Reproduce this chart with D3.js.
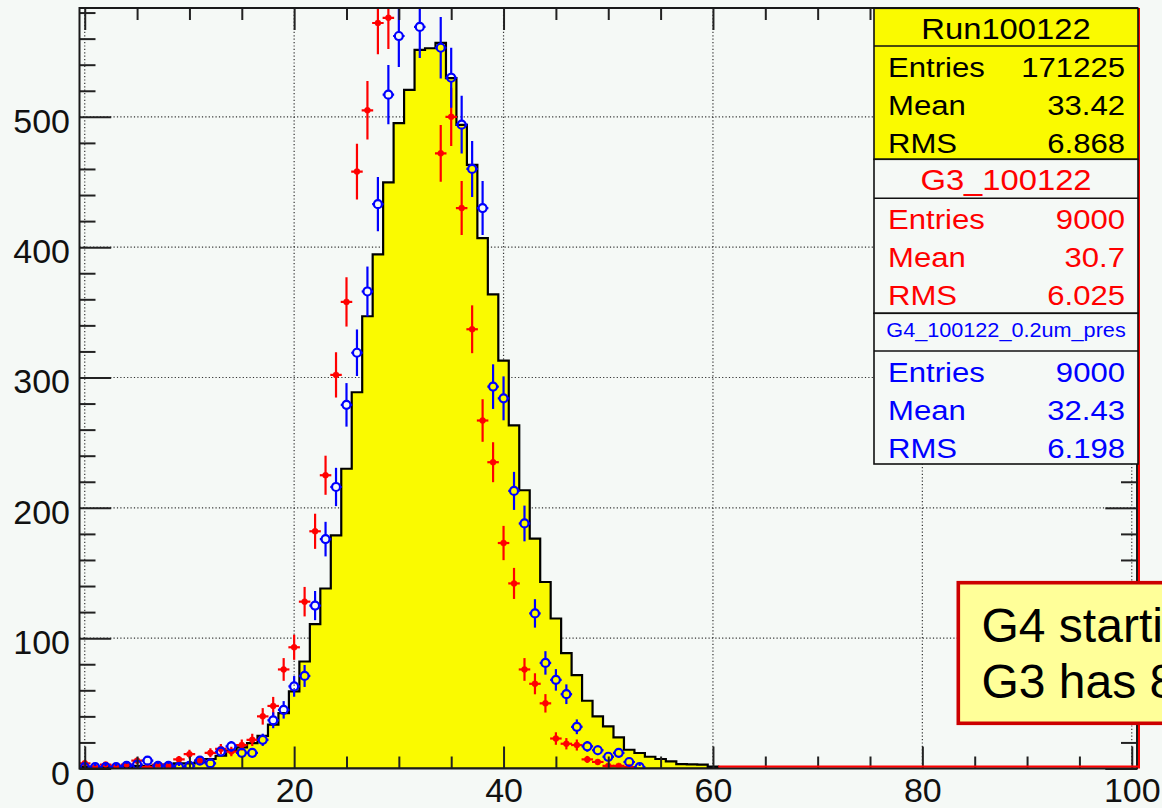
<!DOCTYPE html>
<html><head><meta charset="utf-8">
<script src="https://cdn.jsdelivr.net/npm/d3@7"></script>
<style>body{margin:0;background:#f5f9f6;} svg{display:block;}</style>
</head><body>
<svg id="c" width="1162" height="808"></svg>
<script>
// ---------------- data ----------------
// bin contents, bin i centred on i (bins of width 1 from -0.5 to 100.5)
const runVals = [1.5,1,1,1.5,1.5,2,2,2.5,3,4, 4,4.8,7.3,9.8,13.7,16.2,19.5,25.1,33.6,42.5,
  59.2,82.1,110.7,138.1,178.9,230,288.7,347,394.4,449.7, 495.2,520.7,551.3,552.6,556.7,529.7,493.9,463.2,407,363.8,
  313,263.2,213.5,176.4,143.1,115.1,88.5,71.6,52,40, 32.3,23.9,14.4,11.9,9,7.3,5.5,3.4,3.2,3, 1.5];
const g3Vals = [4,1,3,2,3,6,1,3,2,7, 11,6,12,15,13,18,22,40,48,76, 93,128,182,225,302,358,458,505,572,576,
  600,612,592,596,472,500,430,337,267,235, 173,142,76,65,50,23,19,18,7,5, 2,2,1];
const g4Vals = [1,1,1,1,2,3,6,2,2,1, 2,6,4,13,17,12,12,22,37,45, 63,71,125,176,216,279,319,366,433,517,
  562,605,569,600,553,530,494,460,430,293, 284,213,188,119,81,68,57,32,17,14, 9,12,5,1];
const xMajorTicks = [0,20,40,60,80,100];
const xMinorTicks = d3.range(0,101,5);
const yMajorTicks = [0,100,200,300,400,500];
const yMinorTicks = d3.range(0,581,20);
const statLabels = ["Entries","Mean","RMS"];
const runTitle = "Run100122", runStats = ["171225","33.42","6.868"];
const g3Title = "G3_100122", g3Stats = ["9000","30.7","6.025"];
const g4Title = "G4_100122_0.2um_pres", g4Stats = ["9000","32.43","6.198"];
const noteLines = ["G4 starting","G3 has 8"];

// ---------------- setup ----------------
const BG = "#f5f9f6", YEL = "#fafa00", RED = "#ff0000", BLUE = "#0000ff";
const FONT = "'Liberation Sans', Arial, Helvetica, sans-serif";
const svg = d3.select("#c");
svg.append("rect").attr("width",1162).attr("height",808).attr("fill",BG);

const x = d3.scaleLinear().domain([-0.5,100.5]).range([79.5,1137]);
const y = d3.scaleLinear().domain([0,583.5]).range([768.5,8]);
const L = x(-0.5), R = x(100.5), T = y(583.5), B = y(0);

svg.append("defs").append("clipPath").attr("id","clip")
  .append("rect").attr("x",L).attr("y",T).attr("width",R-L).attr("height",B-T);

// grid (dotted)
const grid = svg.append("g").attr("stroke","#333").attr("stroke-width",1.2).attr("stroke-dasharray","1.2,2.2");
grid.selectAll(".gx").data(xMajorTicks).join("line")
  .attr("x1",d=>x(d)).attr("x2",d=>x(d)).attr("y1",T).attr("y2",B);
grid.selectAll(".gy").data(yMajorTicks.filter(d=>d>0)).join("line")
  .attr("x1",L).attr("x2",R).attr("y1",d=>y(d)).attr("y2",d=>y(d));

// histogram (yellow, black outline)
const nb = 101;
const hv = i => (i < runVals.length ? runVals[i] : 0);
let p = `M${x(-0.5)},${y(0)}`;
for (let i=0;i<nb;i++){ p += `L${x(i-0.5)},${y(hv(i))}L${x(i+0.5)},${y(hv(i))}`; }
p += `L${x(100.5)},${y(0)}Z`;
const plot = svg.append("g").attr("clip-path","url(#clip)");
plot.append("path").attr("d",p).attr("fill",YEL).attr("stroke","#000").attr("stroke-width",2.2).attr("stroke-linejoin","miter");

// error points
function drawPoints(vals, color, open){
  const g = plot.append("g").attr("stroke",color).attr("stroke-width",2.2);
  const r = open ? 4 : 3;
  vals.forEach((v,i)=>{
    if (v <= 0 || v > y.domain()[1]) return;
    const e = Math.sqrt(v), cx = x(i), cy = y(v);
    const gap = open ? r : 0;
    g.append("line").attr("x1",cx).attr("x2",cx).attr("y1",y(v+e)).attr("y2",cy-gap);
    g.append("line").attr("x1",cx).attr("x2",cx).attr("y1",cy+gap).attr("y2",y(Math.max(v-e,0)));
    g.append("line").attr("x1",x(i-0.55)).attr("x2",cx-gap).attr("y1",cy).attr("y2",cy);
    g.append("line").attr("x1",cx+gap).attr("x2",x(i+0.55)).attr("y1",cy).attr("y2",cy);
    g.append("circle").attr("cx",cx).attr("cy",cy).attr("r",r)
      .attr("fill",open?"none":color).attr("stroke-width",open?2.2:0.5);
  });
}
drawPoints(g3Vals, RED, false);
drawPoints(g4Vals, BLUE, true);

// axes
function styleAxis(g){ g.select(".domain").remove(); g.selectAll(".tick line").attr("stroke","#222").attr("stroke-width",2); }
const axB = svg.append("g").attr("transform",`translate(0,${B})`)
  .call(d3.axisBottom(x).tickValues(xMajorTicks).tickSize(-22).tickFormat(d3.format("d")));
styleAxis(axB);
axB.selectAll("text").attr("y",33.5).attr("dy",0).attr("font-size",34).attr("font-family",FONT).attr("fill","#111");
svg.append("g").attr("transform",`translate(0,${B})`)
  .call(d3.axisBottom(x).tickValues(xMinorTicks.filter(d=>!xMajorTicks.includes(d))).tickSize(-12).tickFormat(""))
  .call(styleAxis);
svg.append("g").attr("transform",`translate(0,${T})`)
  .call(d3.axisTop(x).tickValues(xMajorTicks).tickSize(-22).tickFormat("")).call(styleAxis);
svg.append("g").attr("transform",`translate(0,${T})`)
  .call(d3.axisTop(x).tickValues(xMinorTicks.filter(d=>!xMajorTicks.includes(d))).tickSize(-12).tickFormat("")).call(styleAxis);

const axL = svg.append("g").attr("transform",`translate(${L},0)`)
  .call(d3.axisLeft(y).tickValues(yMajorTicks).tickSize(-31.7).tickPadding(9.5).tickFormat(d3.format("d")));
styleAxis(axL);
axL.selectAll("text").attr("dy",15.5).attr("font-size",34).attr("font-family",FONT).attr("fill","#111");
svg.append("g").attr("transform",`translate(${L},0)`)
  .call(d3.axisLeft(y).tickValues(yMinorTicks.filter(d=>!yMajorTicks.includes(d))).tickSize(-16).tickFormat("")).call(styleAxis);
svg.append("g").attr("transform",`translate(${R},0)`)
  .call(d3.axisRight(y).tickValues(yMajorTicks).tickSize(-31.7).tickFormat("")).call(styleAxis);
svg.append("g").attr("transform",`translate(${R},0)`)
  .call(d3.axisRight(y).tickValues(yMinorTicks.filter(d=>!yMajorTicks.includes(d))).tickSize(-16).tickFormat("")).call(styleAxis);

// frame
svg.append("rect").attr("x",L).attr("y",T).attr("width",R-L).attr("height",B-T)
  .attr("fill","none").attr("stroke","#1a1a1a").attr("stroke-width",2);

// red zero-level line of G3 beyond its data and right edge
svg.append("line").attr("x1",x(60.5)).attr("x2",R+1.5).attr("y1",B-2).attr("y2",B-2).attr("stroke",RED).attr("stroke-width",2);
svg.append("line").attr("x1",R+2).attr("x2",R+2).attr("y1",T).attr("y2",B).attr("stroke",RED).attr("stroke-width",2);

// ---------------- stats boxes ----------------
const bx0 = 874, bx1 = 1138, labX = 888, valX = 1125;
function stText(txt, tx, ty, size, color, anchor){
  svg.append("text").attr("transform",`translate(${tx},${ty}) scale(1.11,1)`)
    .attr("text-anchor",anchor).attr("font-family",FONT).attr("font-size",size).attr("fill",color).text(txt);
}
function statBox(top, bot, titleLine, fill, color, title, titleSize, titleBase, vals){
  svg.append("rect").attr("x",bx0).attr("y",top).attr("width",bx1-bx0).attr("height",bot-top)
    .attr("fill",fill).attr("stroke","#111").attr("stroke-width",1.6);
  svg.append("line").attr("x1",bx0).attr("x2",bx1).attr("y1",titleLine).attr("y2",titleLine)
    .attr("stroke","#111").attr("stroke-width",1.6);
  stText(title, (bx0+bx1)/2, titleBase, titleSize, color, "middle");
  statLabels.forEach((lab,k)=>{
    const by = titleLine + 30.5 + k*38.3;
    stText(lab, labX, by, 28, color, "start");
    stText(vals[k], valX, by, 28, color, "end");
  });
}
statBox(8.3, 159.3, 46, YEL, "#000", runTitle, 29.5, 39.3, runStats);
statBox(159.3, 313.3, 198.3, BG, RED, g3Title, 29.5, 190, g3Stats);
statBox(313.3, 464, 351, BG, BLUE, g4Title, 19.5, 337, g4Stats);

// ---------------- annotation (cut at the right edge, as in the reference) ----------------
svg.append("rect").attr("x",958.3).attr("y",582.7).attr("width",260).attr("height",140.6)
  .attr("fill","#ffff99").attr("stroke","#cc0000").attr("stroke-width",3.6);
noteLines.forEach((t,k)=>{
  svg.append("text").attr("x",981.5).attr("y",641.7+k*56.6).attr("font-family",FONT)
    .attr("font-size",48).attr("fill","#000").text(t);
});
</script>
</body></html>
